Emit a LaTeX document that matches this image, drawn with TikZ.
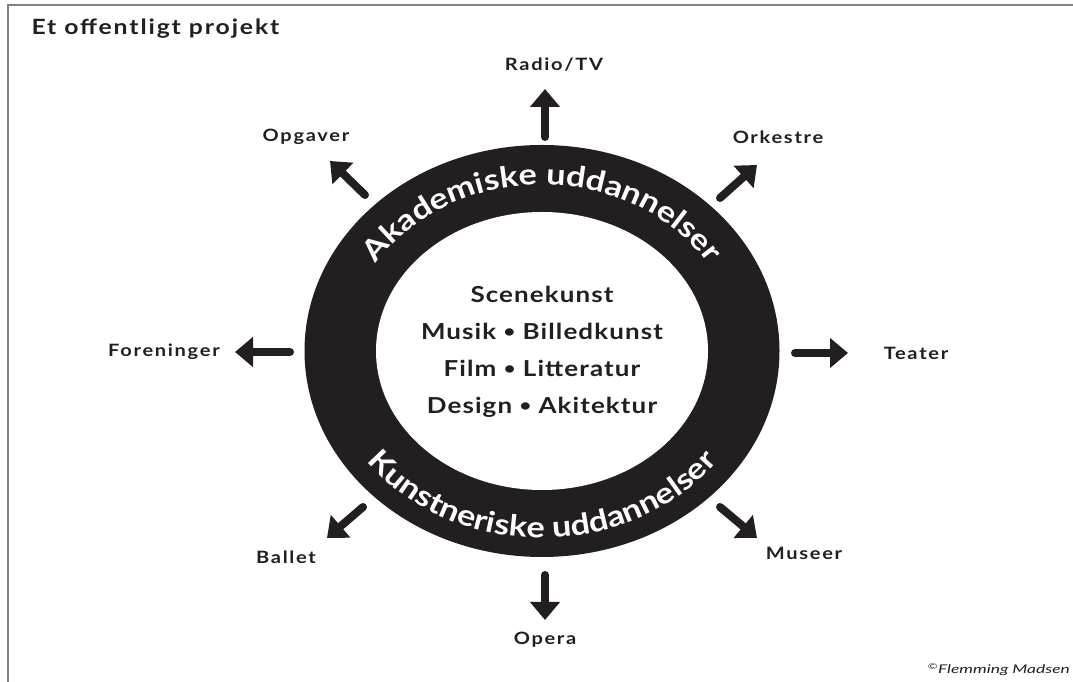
\documentclass[tikz,border=0pt]{standalone}
\usepackage{fontspec}
\setmainfont{Lato}[FakeStretch=1.18]
\newfontfamily\creditfont{Lato}[FakeStretch=1.45]
\usetikzlibrary{arrows.meta,decorations.text,calc}

\definecolor{ink}{RGB}{35,31,32}
\newcommand{\ringfont}{\fontsize{29}{31}\selectfont\bfseries\color{white}}
\newcommand{\artdot}{\raisebox{2pt}{\fontsize{17}{17}\selectfont•}}

\begin{document}
\begin{tikzpicture}[x=1pt,y=1pt,
	outarrow/.style={draw=ink, line width=8pt, line cap=round, -{Triangle[width=29pt,length=18pt]}},
	place/.style={font=\fontsize{17}{20}\selectfont\bfseries\addfontfeatures{LetterSpace=10}, text=ink, inner sep=0pt},
	ringtext/.style={decorate, decoration={text along path, text align=center, text={|\ringfont|#1}}}
	]
	\useasboundingbox (0,0) rectangle (1073,682);
	\draw[gray, line width=1.2pt] (8,-5) |- (1080,677);
	\node[anchor=base west, font=\fontsize{21}{25}\selectfont\bfseries\addfontfeatures{LetterSpace=9}, text=ink] (title) at (28,647) {Et offentligt projekt};

	% the ring
	\coordinate (hub) at (542,331);
	\fill[ink] (hub) ellipse [x radius=237.5, y radius=206];
	\fill[white] (hub) ellipse [x radius=166, y radius=139];
	\path[ringtext=Akademiske uddannelser] ($(hub)+(170:195 and 166)$) arc[start angle=170, end angle=10, x radius=195, y radius=166];
	\path[ringtext=Kunstneriske uddannelser] ($(hub)+(195:217 and 187)$) arc[start angle=195, end angle=345, x radius=217, y radius=187];
	\node[align=center, font=\fontsize{22}{37}\selectfont\bfseries\addfontfeatures{LetterSpace=5}, text=ink] (arts) at (542,330) {Scenekunst\\Musik \artdot{} Billedkunst\\Film \artdot{} Litteratur\\Design \artdot{} Akitektur};

	% labels
	\node[place] (radio) at (554,617) {Radio/TV};
	\node[place] (orkestre) at (778,545) {Orkestre};
	\node[place] (teater) at (916,329) {Teater};
	\node[place] (museer) at (804,129) {Museer};
	\node[place] (opera) at (545,42) {Opera};
	\node[place] (ballet) at (286,125) {Ballet};
	\node[place] (foreninger) at (164,330) {Foreninger};
	\node[place] (opgaver) at (306,545) {Opgaver};

	% arrows
	\coordinate (a-radio) at (545,545);      \coordinate (b-radio) at (545,593);
	\coordinate (a-orkestre) at (720,484);   \coordinate (b-orkestre) at (757,517);
	\coordinate (a-teater) at (795,329);     \coordinate (b-teater) at (848,329);
	\coordinate (a-museer) at (720,175);     \coordinate (b-museer) at (757,144);
	\coordinate (a-opera) at (545,107);      \coordinate (b-opera) at (545,62);
	\coordinate (a-ballet) at (363,175);     \coordinate (b-ballet) at (327,144);
	\coordinate (a-foreninger) at (290,330); \coordinate (b-foreninger) at (235,330);
	\coordinate (a-opgaver) at (365,487);    \coordinate (b-opgaver) at (330,521);
	\foreach \n in {radio,orkestre,teater,museer,opera,ballet,foreninger,opgaver}
		\draw[outarrow] (a-\n) -- (b-\n);

	\node[anchor=base east, font=\fontsize{12}{14}\selectfont\creditfont\itshape, text=ink, inner sep=0pt] (credit) at (1070,8) {\textsuperscript{©}Flemming Madsen};
\end{tikzpicture}
\end{document}
